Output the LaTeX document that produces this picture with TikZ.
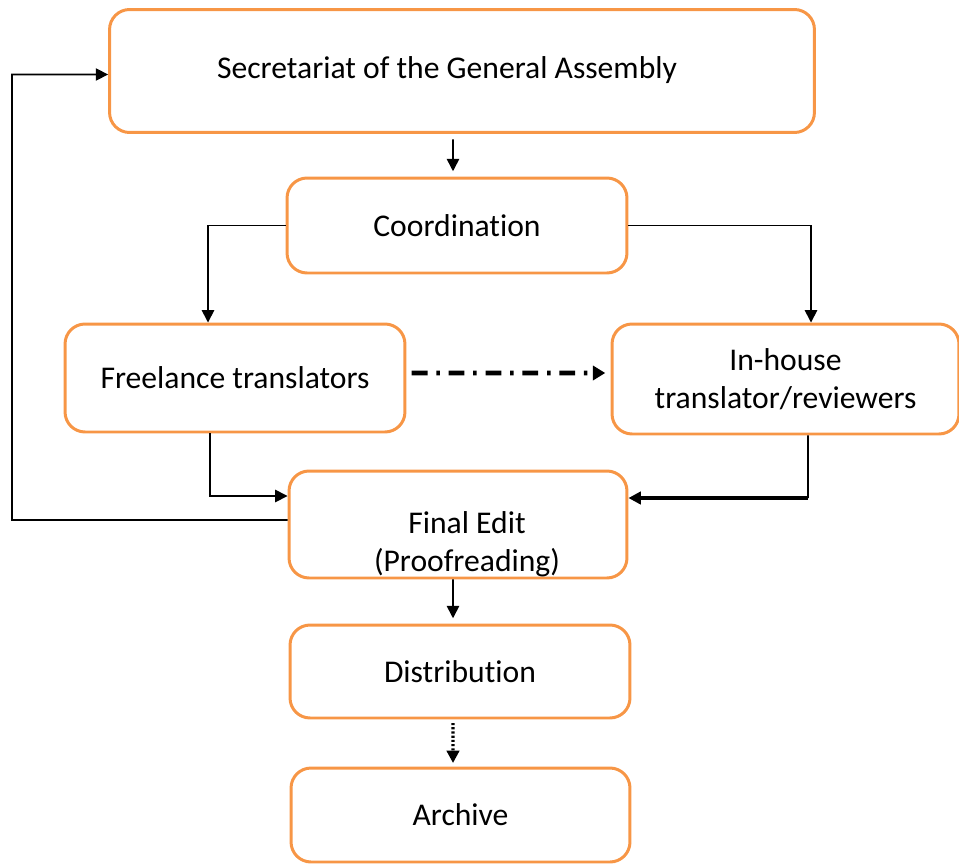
\documentclass[tikz,border=0pt]{standalone}
\usepackage{fontspec}
\setmainfont[Ligatures=NoCommon]{Carlito}
\usetikzlibrary{arrows.meta,positioning}
\definecolor{boxorange}{HTML}{F79646}
\tikzset{
  box/.style={draw=boxorange, line width=1.7pt, rounded corners=0.4cm,
    align=center, font=\fontsize{18}{21.6}\selectfont, inner sep=2pt},
  arr/.style={-{Triangle[length=7pt,width=7pt]}, line width=0.9pt},
  thickarr/.style={-{Triangle[length=7pt,width=7pt]}, line width=2.6pt},
}
\begin{document}
\begin{tikzpicture}[x=0.02cm,y=-0.02cm]
      \useasboundingbox (0,0) rectangle (959,865);
      \node[box, minimum width=14.1cm, minimum height=2.46cm] (sec) at (462,71)
        {\raisebox{0.12cm}{Secretariat of the General Assembly}\hspace*{0.6cm}};
      \node[box, minimum width=6.8cm, minimum height=1.9cm] (coord) at (457,225.5) {Coordination};
      \node[box, minimum width=6.8cm, minimum height=2.16cm] (free) at (235,378) {Freelance translators};
      \node[box, minimum width=6.94cm, minimum height=2.2cm] (inh) at (785.5,379)
        {In-house\\translator/reviewers};
      \node[box, minimum width=6.76cm, minimum height=2.14cm] (final) at (458,524.5) {};
      \node[font=\fontsize{18}{21.6}\selectfont, align=center] (finaltxt) at (467,544)
        {Final Edit\\(Proofreading)};
      \node[box, minimum width=6.8cm, minimum height=1.86cm] (dist) at (460,671.5) {Distribution};
      \node[box, minimum width=6.78cm, minimum height=1.88cm] (arch) at (460.5,815) {Archive};
      \coordinate (back) at (12,520);
      \coordinate (inhcorner) at (808,498);
      % connectors
      \draw[arr, shorten <=3pt, shorten >=3pt] ([xshift=-0.18cm]sec.south) -- ([xshift=-0.08cm]coord.north);
      \draw[arr] (coord.west) -| ([xshift=-0.54cm]free.north);
      \draw[arr] (coord.east) -| ([xshift=0.51cm]inh.north);
      \draw[-{Triangle[length=7pt,width=8pt]}, line width=2.8pt, dash pattern=on 9pt off 5pt on 2pt off 5pt,
        shorten <=3pt, shorten >=3pt] ([yshift=0.1cm]free.east) -- ([yshift=0.12cm]inh.west);
      \draw[arr] ([xshift=-0.5cm]free.south) |- ([yshift=0.57cm]final.west);
      \draw[line width=0.9pt] ([xshift=0.45cm]inh.south) -- (inhcorner);
      \draw[thickarr] (inhcorner) -- (inhcorner -| final.east);
      \draw[arr] ([yshift=0.09cm]final.west) -- (back) |- ([yshift=-0.07cm]sec.west);
      \draw[arr, shorten >=3pt] ([xshift=-0.1cm]final.south) -- ([xshift=-0.14cm]dist.north);
      \draw[arr, line width=1.8pt, dash pattern=on 1.2pt off 1.2pt, shorten <=2pt, shorten >=2pt]
        ([xshift=-0.14cm]dist.south) -- ([xshift=-0.15cm]arch.north);
    \end{tikzpicture}
\end{document}
